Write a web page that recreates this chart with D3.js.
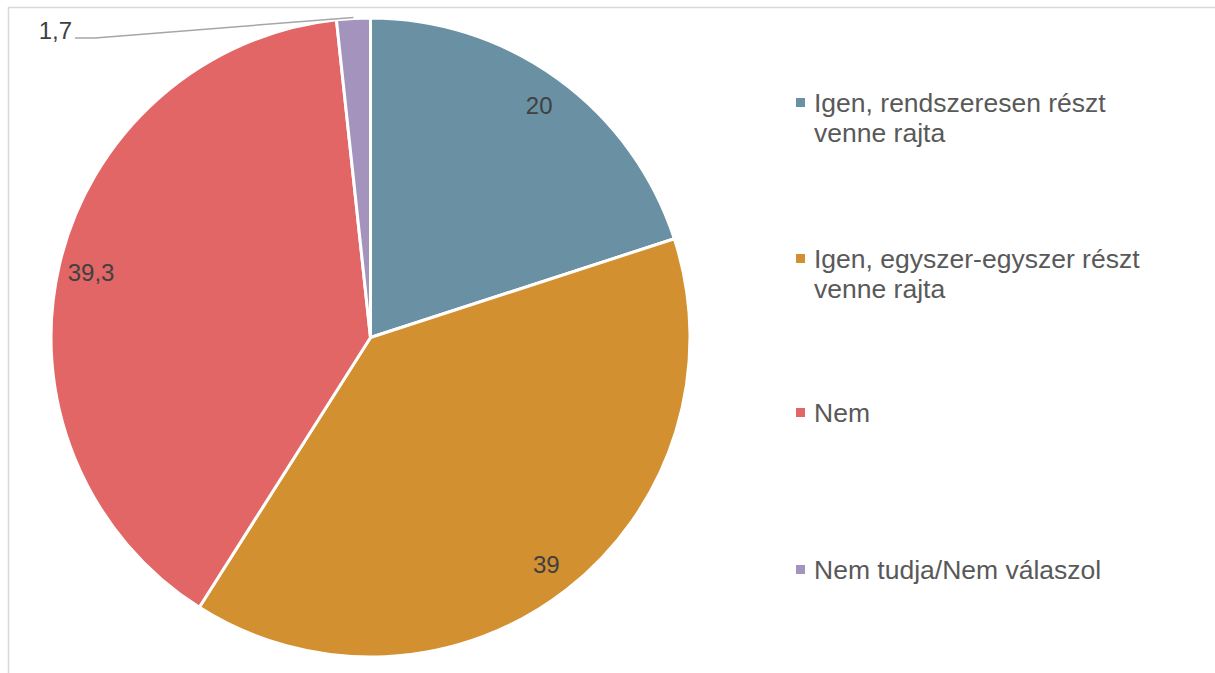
<!DOCTYPE html>
<html><head><meta charset="utf-8">
<script src="https://cdn.jsdelivr.net/npm/d3@7"></script>
<style>body{margin:0;background:#fff}svg{display:block;font-family:"Liberation Sans",Arial,sans-serif}</style>
</head><body>
<svg id="c" width="1215" height="673"></svg>
<script>
const categories = ["Igen, rendszeresen részt venne rajta","Igen, egyszer-egyszer részt venne rajta","Nem","Nem tudja/Nem válaszol"];
const legendLines = [["Igen, rendszeresen részt","venne rajta"],["Igen, egyszer-egyszer részt","venne rajta"],["Nem"],["Nem tudja/Nem válaszol"]];
const values = [20, 39, 39.3, 1.7];
const valueLabels = ["20","39","39,3","1,7"];
const colors = ["#6A90A3","#D29031","#E26666","#A493BD"];

const svg = d3.select("#c");
svg.append("rect").attr("x",8.5).attr("y",7.5).attr("width",1220).attr("height",680)
  .attr("fill","none").attr("stroke","#D9D9D9").attr("stroke-width",1.5);

const cx = 370.5, cy = 337.5, r = 319.5;
const pie = d3.pie().sort(null).value(d=>d)(values);
const arc = d3.arc().innerRadius(0).outerRadius(r);
const g = svg.append("g").attr("transform",`translate(${cx},${cy})`);
g.selectAll("path").data(pie).join("path")
  .attr("d",arc).attr("fill",(d,i)=>colors[i])
  .attr("stroke","#fff").attr("stroke-width",3).attr("stroke-linejoin","round");

// data labels
const labelArc = d3.arc().innerRadius(r*0.898).outerRadius(r*0.898);
pie.forEach((d,i)=>{
  if(i<3){
    const [x,y] = labelArc.centroid(d);
    g.append("text").attr("x",x).attr("y",y).attr("text-anchor","middle").attr("dy","0.35em")
      .attr("font-size",24).attr("fill","#404040").text(valueLabels[i]);
  }
});
// small slice label with leader line
const d3s = pie[3];
const mid = (d3s.startAngle+d3s.endAngle)/2;
const ex = Math.sin(mid)*(r+1), ey = -Math.cos(mid)*(r+1);
const lx = 75 - cx, ly = 38 - cy;
g.append("path").attr("d",`M${ex},${ey}L${lx+20},${ly}L${lx},${ly}`)
  .attr("fill","none").attr("stroke","#A6A6A6").attr("stroke-width",1.5);
g.append("text").attr("x",lx-3).attr("y",ly).attr("dy","0.05em").attr("text-anchor","end")
  .attr("font-size",24).attr("fill","#404040").text(valueLabels[3]);

// legend
const legY = [112, 268, 422, 579];
const lg = svg.append("g");
categories.forEach((c,i)=>{
  lg.append("rect").attr("x",796).attr("y",legY[i]-14).attr("width",9).attr("height",9).attr("fill",colors[i]);
  const t = lg.append("text").attr("x",814).attr("y",legY[i]).attr("font-size",26.5).attr("fill","#595959");
  legendLines[i].forEach((ln,j)=>t.append("tspan").attr("x",814).attr("dy",j?30:0).text(ln));
});
</script>
</body></html>
